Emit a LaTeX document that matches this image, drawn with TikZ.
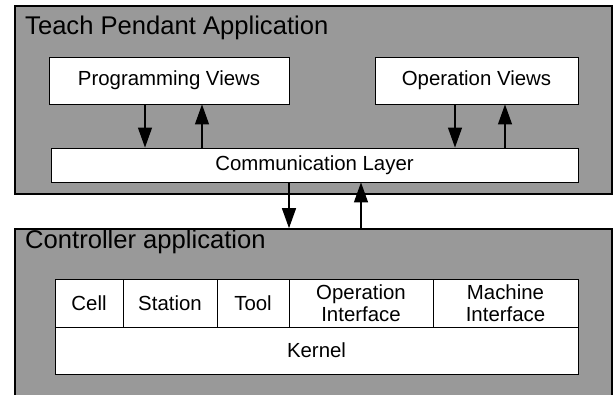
\documentclass[tikz,border=0pt]{standalone}
\usepackage{fontspec}
\setmainfont{Liberation Sans}
\usetikzlibrary{arrows.meta}
\begin{document}
\begin{tikzpicture}[x=1pt,y=-1pt,
  outerbox/.style={draw=black,line width=1.6pt,fill=gray60,rectangle,inner sep=0pt},
  whitebox/.style={draw=black,line width=0.9pt,fill=white,rectangle,inner sep=0pt,
    font=\fontsize{20.4}{22}\selectfont,align=center},
  titletext/.style={font=\fontsize{25.6}{28}\selectfont,anchor=base west,inner sep=0pt},
  arr/.style={line width=1.3pt,-{Triangle[length=20pt,width=14pt]}}]
\colorlet{gray60}{black!40}
\clip (0,0) rectangle (615,395);
% Teach pendant application
\node[outerbox,minimum width=597pt,minimum height=188pt] (tpa) at (313.5,100) {};
\node[titletext] (tpat) at (25,35) {Teach Pendant Application};
\node[whitebox,minimum width=240pt,minimum height=47pt] (pv) at (169,80.5) {Programming Views};
\node[whitebox,minimum width=203pt,minimum height=47pt] (ov) at (476.5,80.5) {Operation Views};
\node[whitebox,minimum width=527pt,minimum height=34pt] (comm) at (314.5,165) {Communication Layer};
\draw[arr] (pv.south -| 145,0) -- (comm.north -| 145,0);
\draw[arr] (comm.north -| 202,0) -- (pv.south -| 202,0);
\draw[arr] (ov.south -| 455,0) -- (comm.north -| 455,0);
\draw[arr] (comm.north -| 505,0) -- (ov.south -| 505,0);
% Controller application
\node[outerbox,minimum width=597pt,minimum height=200pt] (ctrl) at (313.5,329) {};
\node[titletext] (ctrlt) at (25,248) {Controller application};
\node[whitebox,minimum width=68pt,minimum height=48pt] (cell) at (89,303) {Cell};
\node[whitebox,minimum width=94pt,minimum height=48pt] (station) at (170,303) {Station};
\node[whitebox,minimum width=72pt,minimum height=48pt] (tool) at (253,303) {Tool};
\node[whitebox,minimum width=144pt,minimum height=48pt] (opif) at (361,303) {Operation\\Interface};
\node[whitebox,minimum width=145pt,minimum height=48pt] (mcif) at (505.5,303) {Machine\\Interface};
\node[whitebox,minimum width=523pt,minimum height=47pt] (kernel) at (316.5,350.5) {Kernel};
\draw[arr] (comm.south -| 289,0) -- (ctrl.north -| 289,0);
\draw[arr] (ctrl.north -| 361,0) -- (comm.south -| 361,0);
\end{tikzpicture}
\end{document}
